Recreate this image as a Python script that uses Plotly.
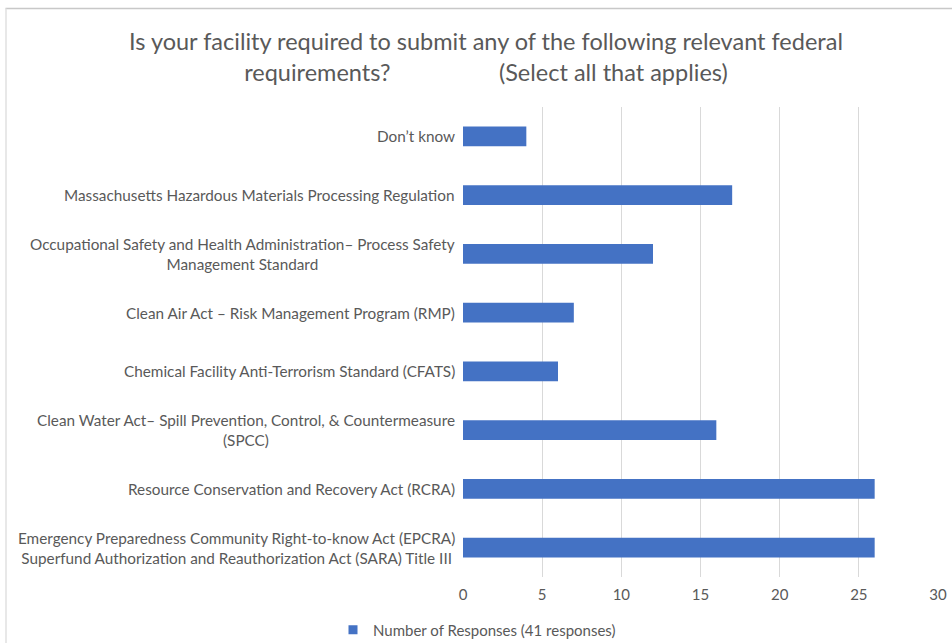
import plotly.graph_objects as go

# Survey answers, listed top to bottom as they appear on the chart
categories = [
    "Don’t know",
    "Massachusetts Hazardous Materials Processing Regulation",
    "Occupational Safety and Health Administration– Process Safety<br>Management Standard",
    "Clean Air Act – Risk Management Program (RMP)",
    "Chemical Facility Anti-Terrorism Standard (CFATS)",
    "Clean Water Act– Spill Prevention, Control, & Countermeasure<br>(SPCC)",
    "Resource Conservation and Recovery Act (RCRA)",
    "Emergency Preparedness Community Right-to-know Act (EPCRA)<br>Superfund Authorization and Reauthorization Act (SARA) Title III",
]
responses = [4, 17, 12, 7, 6, 16, 26, 26]
x_ticks = [0, 5, 10, 15, 20, 25, 30]

series_name = "Number of Responses (41 responses)"
title_text = (
    "Is your facility required to submit any of the following relevant federal<br>"
    "requirements?" + "\u00a0" * 18 + "(Select all that applies)"
)

FONT = "Lato, 'Open Sans', sans-serif"
TEXT = "#595959"
BAR = "#4472C4"
GRID = "#d9d9d9"

W, H = 952, 643
L, R, T, B = 463, 14, 107, 66

fig = go.Figure()
fig.add_trace(go.Bar(
    x=responses,
    y=categories,
    orientation="h",
    name=series_name,
    marker=dict(color=BAR, line=dict(width=0)),
    width=0.34,
    showlegend=False,
))
# Legend entry with a small square key
fig.add_trace(go.Scatter(
    x=[None], y=[None], mode="markers", name=series_name,
    marker=dict(symbol="square", size=9, color=BAR),
    showlegend=True, hoverinfo="skip",
))

# Category labels: right-aligned against the axis, multi-line text centred
for cat in categories:
    fig.add_annotation(
        x=0, xref="paper", y=cat, yref="y",
        text=cat, showarrow=False,
        xanchor="right", yanchor="middle", align="center",
        xshift=-6,
        font=dict(family=FONT, size=15.3, color=TEXT),
    )

# Thin chart-area frame (top and left edges)
px_to_x = lambda px: (px - L) / (W - L - R)
py_to_y = lambda py: (H - B - py) / (H - T - B)
fig.add_shape(type="line", xref="paper", yref="paper",
              x0=px_to_x(5.5), x1=px_to_x(W + 5), y0=py_to_y(8.5), y1=py_to_y(8.5),
              line=dict(color="#c8c8c8", width=1.5))
fig.add_shape(type="line", xref="paper", yref="paper",
              x0=px_to_x(6), x1=px_to_x(6), y0=py_to_y(8.5), y1=py_to_y(H + 5),
              line=dict(color="#e0e0e0", width=1.5))

fig.update_layout(
    width=W, height=H,
    margin=dict(l=L, r=R, t=T, b=B, autoexpand=False),
    paper_bgcolor="white", plot_bgcolor="white",
    title=dict(
        text=title_text,
        x=486 / W, xref="container", xanchor="center",
        y=1 - 50 / H, yref="container", yanchor="middle",
        font=dict(family=FONT, size=23.5, color=TEXT),
    ),
    xaxis=dict(
        range=[0, 30], tickvals=x_ticks, showgrid=True, gridcolor=GRID,
        gridwidth=1, zeroline=False, showline=False, ticks="",
        tickfont=dict(family=FONT, size=15, color=TEXT), ticklabelstandoff=7,
        fixedrange=True,
    ),
    yaxis=dict(
        categoryorder="array", categoryarray=categories[::-1],
        showticklabels=False, showgrid=False, zeroline=False,
        showline=False, ticks="", fixedrange=True,
    ),
    legend=dict(
        orientation="h", xref="container", yref="container",
        x=477 / W, xanchor="center", y=1 - 630 / H, yanchor="middle",
        font=dict(family=FONT, size=15, color=TEXT),
        itemwidth=30, bgcolor="rgba(0,0,0,0)",
    ),
    bargap=0.66,
)

fig.write_html("out.html")
